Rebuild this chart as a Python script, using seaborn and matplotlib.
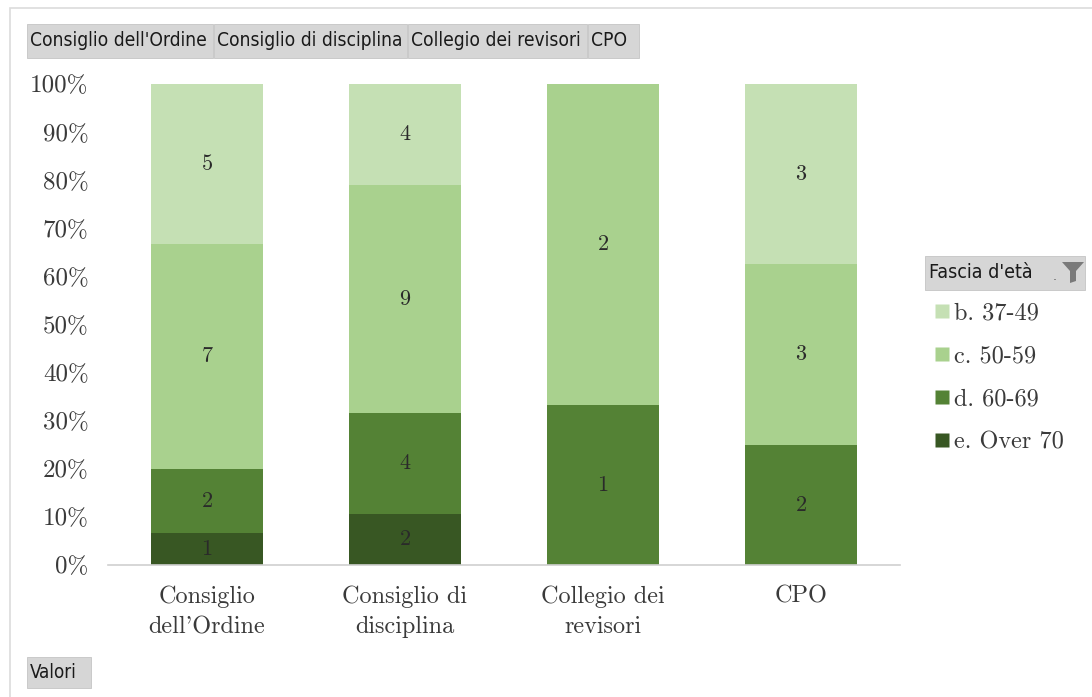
import numpy as np
import pandas as pd
import matplotlib.pyplot as plt
import seaborn as sns
from matplotlib.patches import Rectangle, Polygon
from matplotlib.lines import Line2D

categories = ["Consiglio\ndell'Ordine", "Consiglio di\ndisciplina", "Collegio dei\nrevisori", "CPO"]
buttons = ["Consiglio dell'Ordine", "Consiglio di disciplina", "Collegio dei revisori", "CPO"]
groups = ["e. Over 70", "d. 60-69", "c. 50-59", "b. 37-49"]
counts_e = [1, 2, 0, 0]
counts_d = [2, 4, 1, 2]
counts_c = [7, 9, 2, 3]
counts_b = [5, 4, 0, 3]
colors = {"b. 37-49": "#c5e0b4", "c. 50-59": "#a9d18e", "d. 60-69": "#548235", "e. Over 70": "#385723"}

df = pd.DataFrame({"cat": categories, "e. Over 70": counts_e, "d. 60-69": counts_d,
                   "c. 50-59": counts_c, "b. 37-49": counts_b})
totals = df[groups].sum(axis=1)

sns.set_style("white")
serif = "cmr10"
txt_col = "#3a3a3a"

fig = plt.figure(figsize=(10.92, 6.97), dpi=100)
ax = fig.add_axes([108 / 1092, 1 - 565 / 697, (900 - 108) / 1092, (565 - 84) / 697])

bottom = np.zeros(len(categories))
for g in groups:
    pct = df[g].values / totals.values
    sns.barplot(x=df["cat"], y=pct, bottom=bottom, color=colors[g], width=0.57,
                saturation=1, ax=ax, edgecolor="none", linewidth=0)
    for i, (v, p) in enumerate(zip(df[g].values, pct)):
        if v > 0:
            ax.text(i, bottom[i] + p / 2, str(v), ha="center", va="center",
                    fontsize=16, family=serif, color="#2a2a2a")
    bottom += pct

ax.set_xlim(-0.5, 3.5)
ax.set_ylim(0, 1)
ax.set_xlabel("")
ax.set_ylabel("")
ax.set_yticks(np.arange(0, 1.01, 0.1))
ax.set_yticklabels([f"{int(round(t * 100))}%" for t in np.arange(0, 1.01, 0.1)],
                   family=serif, fontsize=18, color=txt_col)
ax.set_xticks(range(len(categories)))
ax.set_xticklabels(categories, family=serif, fontsize=17.5, color=txt_col, linespacing=1.45)
ax.tick_params(axis="y", length=0, pad=14)
ax.tick_params(axis="x", length=0, pad=15)
for s in ["top", "right", "left"]:
    ax.spines[s].set_visible(False)
ax.spines["bottom"].set_color("#d0d0d0")
ax.spines["bottom"].set_linewidth(1.2)

# outer frame
fig.patches.append(Rectangle((10 / 1092, -0.1), 1.2, 1 - 8 / 697 + 0.1, transform=fig.transFigure,
                             fill=False, edgecolor="#dcdcdc", linewidth=1.2))

def px(x, y):
    return x / 1092, 1 - y / 697

# top buttons
btn_x = [27, 214, 408, 588, 640]
for i, b in enumerate(buttons):
    x0, x1 = btn_x[i], btn_x[i + 1]
    x, y = px(x0, 58)
    fig.patches.append(Rectangle((x, y), (x1 - x0 - 1) / 1092, 34 / 697, transform=fig.transFigure,
                                 facecolor="#d6d6d6", edgecolor="#c4c4c4", linewidth=0.6))
    tx, ty = px(x0 + 3, 41)
    fig.text(tx, ty, b, fontsize=13.8, family="DejaVu Sans", va="center", ha="left",
             color="#1a1a1a", stretch="condensed")

# bottom "Valori" button
x, y = px(27, 688)
fig.patches.append(Rectangle((x, y), 64 / 1092, 31 / 697, transform=fig.transFigure,
                             facecolor="#d6d6d6", edgecolor="#c4c4c4", linewidth=0.6))
tx, ty = px(30, 673)
fig.text(tx, ty, "Valori", fontsize=13.5, family="DejaVu Sans", va="center", ha="left",
         color="#1a1a1a", stretch="condensed")

# legend title box with filter icon
x, y = px(925, 290)
fig.patches.append(Rectangle((x, y), 160 / 1092, 34 / 697, transform=fig.transFigure,
                             facecolor="#d6d6d6", edgecolor="#c4c4c4", linewidth=0.6))
tx, ty = px(929, 273)
fig.text(tx, ty, "Fascia d'età", fontsize=14, family="DejaVu Sans", va="center", ha="left",
         color="#1a1a1a", stretch="condensed")
fig.patches.append(Polygon([px(1062, 262), px(1084, 262), px(1076, 271), px(1076, 281),
                            px(1070, 283), px(1070, 271)], closed=True,
                           transform=fig.transFigure, facecolor="#7a7a7a", edgecolor="none"))
fx, fy = px(1055, 276)
fig.text(fx, fy, ".", fontsize=9, color="#555555", ha="center", va="center")

# legend entries
handles = [Line2D([0], [0], marker="s", linestyle="none", markersize=9.5,
                  markerfacecolor=colors[g], markeredgecolor="none") for g in groups[::-1]]
leg = fig.legend(handles, groups[::-1], loc="upper left", bbox_to_anchor=px(921, 293),
                 frameon=False, prop={"family": serif, "size": 17.5}, handletextpad=0.05,
                 labelspacing=0.85, handlelength=0.9, borderaxespad=0)
for t in leg.get_texts():
    t.set_color(txt_col)

fig.savefig("out.png", dpi=100, facecolor="white")
